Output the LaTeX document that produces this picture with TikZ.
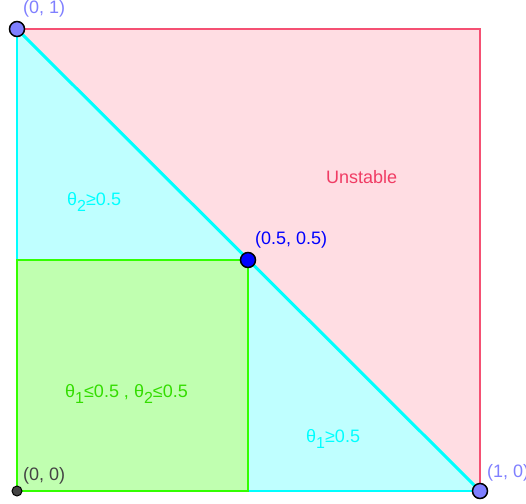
\documentclass[tikz,border=0pt]{standalone}
\usepackage{fontspec}
\setmainfont{Liberation Sans}
\definecolor{pinkfill}{RGB}{255,221,227}
\definecolor{pinkline}{RGB}{245,80,115}
\definecolor{unstab}{RGB}{240,60,100}
\definecolor{cyanfill}{RGB}{191,255,255}
\definecolor{cyanline}{RGB}{0,255,255}
\definecolor{greenfill}{RGB}{192,255,176}
\definecolor{greenline}{RGB}{51,255,0}
\definecolor{greentext}{RGB}{51,221,0}
\definecolor{ptlight}{RGB}{127,127,255}
\definecolor{ptblue}{RGB}{0,0,255}
\definecolor{ptgrey}{RGB}{68,68,68}
\newcommand{\sub}[1]{\raisebox{-6pt}{\fontsize{16}{16}\selectfont #1}}
\tikzset{
  lbl/.style={anchor=base west, inner sep=0pt, font=\fontsize{18}{20}\selectfont},
  bigpt/.style={circle, draw=black, line width=1.5pt, minimum size=15pt, inner sep=0pt},
  smallpt/.style={circle, draw=black, line width=1pt, fill=ptgrey, minimum size=10pt, inner sep=0pt},
  edge/.style={line width=2pt},
}
\begin{document}
\begin{tikzpicture}[x=1pt,y=-1pt]
\useasboundingbox (0,0) rectangle (526,503);
\coordinate (O) at (17,491);
\coordinate (A) at (17,29);
\coordinate (B) at (480,491);
\coordinate (C) at (480,29);
\coordinate (M) at (248,260);
\coordinate (ML) at (17,260);
\coordinate (MB) at (248,491);
% fills
\fill[pinkfill] (A) -- (C) -- (B) -- cycle;
\fill[cyanfill] (A) -- (B) -- (O) -- cycle;
\fill[greenfill] (O) rectangle (M);
% borders
\draw[edge, pinkline] (A) -- (C) -- (B);
\draw[edge, cyanline] (A) -- (ML);
\draw[edge, cyanline] (MB) -- (B);
\draw[line width=3pt, cyanline] (A) -- (B);
\draw[edge, greenline] (O) -- (ML) -- (M) -- (MB) -- cycle;
% region labels
\node[lbl, text=cyanline] (t2) at (67,205) {θ\sub{2}≥0.5};
\node[lbl, text=unstab] (un) at (326,183) {Unstable};
\node[lbl, text=greentext] (both) at (65,397) {θ\sub{1}≤0.5 , θ\sub{2}≤0.5};
\node[lbl, text=cyanline] (t1) at (306,442) {θ\sub{1}≥0.5};
% points
\node[bigpt, fill=ptlight] (pA) at (A) {};
\node[bigpt, fill=ptlight] (pB) at (B) {};
\node[bigpt, fill=ptblue] (pM) at (M) {};
\node[smallpt] (pO) at (O) {};
% point labels
\node[lbl, text=ptlight] (lA) at (23,14) {(0, 1)};
\node[lbl, text=ptblue] (lM) at (255,244) {(0.5, 0.5)};
\node[lbl, text=ptlight] (lB) at (487,477) {(1, 0)};
\node[lbl, text=ptgrey] (lO) at (23,480) {(0, 0)};
\end{tikzpicture}
\end{document}
